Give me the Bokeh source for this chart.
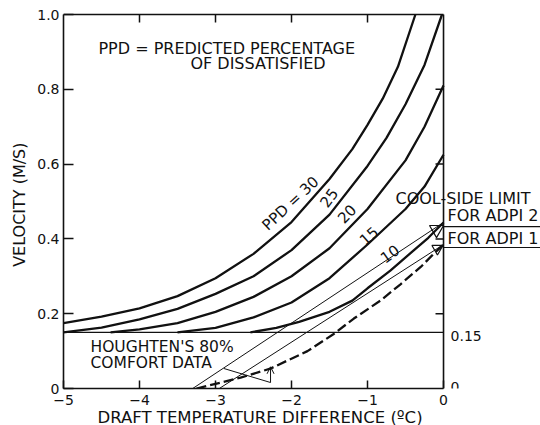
from bokeh.plotting import figure
from bokeh.models import LinearAxis, FixedTicker, Range1d, Arrow, OpenHead
from bokeh.core.properties import value
from bokeh.embed import file_html
from bokeh.resources import INLINE

FONT = "DejaVu Sans"
INK = "#111111"
NB = "\u00a0"

# ---- axes / ticks ----
x_ticks = [-5, -4, -3, -2, -1, 0]
x_tick_labels = ["\u22125", "\u22124", "\u22123", "\u22122", "\u22121", "0"]
y_ticks = [0, 0.2, 0.4, 0.6, 0.8, 1.0]
y_tick_labels = ["0", "0.2", "0.4", "0.6", "0.8", "1.0"]
right_ticks = [0.2, 0.4, 0.6, 0.8]
right_tick_values = [0.15, 0.0]
right_tick_labels = ["0.15", "0"]

# ---- PPD curves (draft temperature difference, velocity) ----
t_ppd30 = [-5, -4.5, -4, -3.5, -3, -2.5, -2, -1.5, -1.2, -1, -0.8, -0.6, -0.37]
v_ppd30 = [0.175, 0.192, 0.214, 0.247, 0.295, 0.36, 0.445, 0.56, 0.64, 0.705, 0.775, 0.86, 1.0]
t_ppd25 = [-5, -4.5, -4, -3.5, -3, -2.5, -2, -1.5, -1, -0.75, -0.5, -0.25, -0.02]
v_ppd25 = [0.15, 0.163, 0.185, 0.213, 0.253, 0.30, 0.37, 0.465, 0.595, 0.67, 0.76, 0.865, 1.0]
t_ppd20 = [-4.38, -4, -3.5, -3, -2.5, -2, -1.5, -1, -0.5, -0.25, 0]
v_ppd20 = [0.15, 0.158, 0.175, 0.205, 0.245, 0.30, 0.375, 0.48, 0.61, 0.70, 0.81]
t_ppd15 = [-3.5, -3, -2.5, -2, -1.5, -1, -0.5, -0.25, 0]
v_ppd15 = [0.15, 0.162, 0.19, 0.23, 0.295, 0.385, 0.48, 0.54, 0.625]
t_ppd10 = [-2.54, -2.2, -1.9, -1.5, -1.2, -1, -0.7, -0.4, -0.2, 0]
v_ppd10 = [0.15, 0.162, 0.178, 0.205, 0.235, 0.268, 0.315, 0.368, 0.403, 0.444]
ppd_labels = ["PPD = 30", "25", "20", "15", "10"]

# ---- Houghten's 80% comfort data (dashed) ----
t_hough = [-3.25, -2.67, -2.28, -1.79, -1.45, -1.18, -0.83, -0.57, -0.3, -0.13, 0]
v_hough = [0.0, 0.029, 0.053, 0.1, 0.145, 0.187, 0.235, 0.278, 0.325, 0.36, 0.385]

# ---- straight cool-side limit lines ----
t_adpi2 = [-3.3, 0]
v_adpi2 = [0.0, 0.444]
t_adpi1 = [-2.95, 0]
v_adpi1 = [0.0, 0.385]
adpi_limits = [0.433, 0.377]

baseline_v = 0.15

PX_X = 76.0   # pixels per degree
PX_Y = 374.0  # pixels per m/s

p = figure(frame_width=477, frame_height=388,
           x_range=Range1d(-5, 1.276), y_range=Range1d(0, 1.0 + 14 / PX_Y),
           output_backend="svg", toolbar_location=None,
           x_axis_location=None, y_axis_location=None,
           min_border_left=63, min_border_right=0, min_border_top=0, min_border_bottom=37)
p.outline_line_color = None
p.grid.grid_line_color = None
p.background_fill_color = "white"
p.border_fill_color = "white"

def style_axis(ax):
    ax.axis_line_color = INK
    ax.axis_line_width = 1.6
    ax.major_tick_line_color = INK
    ax.major_tick_line_width = 1.5
    ax.minor_tick_line_color = None
    ax.major_tick_out = 0
    ax.major_label_text_font = FONT
    ax.major_label_text_font_size = "14px"
    ax.major_label_text_color = INK
    ax.axis_label_text_font = FONT
    ax.axis_label_text_font_size = "16px"
    ax.axis_label_text_font_style = "normal"
    ax.axis_label_text_color = INK

# trailing no-break spaces shift the centred title to sit under the -5..0 axis
xb = LinearAxis(ticker=FixedTicker(ticks=x_ticks), bounds=(x_ticks[0], x_ticks[-1]),
                major_label_overrides=dict(zip(x_ticks, x_tick_labels)),
                axis_label="DRAFT TEMPERATURE DIFFERENCE (\u00baC)" + NB * 16)
style_axis(xb)
xb.axis_label_text_font_size = "16.5px"
xb.major_tick_in = 8
xb.major_label_standoff = 6
xb.axis_label_standoff = 0
p.add_layout(xb, "below")

yl = LinearAxis(ticker=FixedTicker(ticks=y_ticks), bounds=(y_ticks[0], y_ticks[-1]),
                major_label_overrides=dict(zip(y_ticks, y_tick_labels)),
                axis_label="VELOCITY (M/S)" + NB * 4)
style_axis(yl)
yl.major_tick_in = 10
yl.major_label_standoff = 4
yl.axis_label_standoff = 5
p.add_layout(yl, "left")

# top border with inward ticks
p.segment(x0=[x_ticks[0]], y0=[y_ticks[-1]], x1=[x_ticks[-1]], y1=[y_ticks[-1]],
          line_color=INK, line_width=1.6)
top_ticks = x_ticks[1:-1]
p.segment(x0=top_ticks, y0=[y_ticks[-1]] * len(top_ticks),
          x1=top_ticks, y1=[y_ticks[-1] - 8 / PX_Y] * len(top_ticks),
          line_color=INK, line_width=1.5)

# right-hand axis at zero temperature difference
p.segment(x0=[x_ticks[-1]], y0=[y_ticks[0]], x1=[x_ticks[-1]], y1=[y_ticks[-1]],
          line_color=INK, line_width=1.6)
p.segment(x0=[x_ticks[-1]] * len(right_ticks), y0=right_ticks,
          x1=[x_ticks[-1] - 8 / PX_X] * len(right_ticks), y1=right_ticks,
          line_color=INK, line_width=1.5)
p.text(x=[x_ticks[-1]] * 2, y=right_tick_values, text=right_tick_labels,
       x_offset=7, y_offset=[4, -2], text_baseline="middle", text_align="left",
       text_font=value(FONT), text_font_size="14px", text_color=INK)

# 0.15 m/s line
p.segment(x0=[x_ticks[0]], y0=[baseline_v], x1=[x_ticks[-1]], y1=[baseline_v],
          line_color=INK, line_width=1.2)

# PPD curves
for tt, vv in [(t_ppd30, v_ppd30), (t_ppd25, v_ppd25), (t_ppd20, v_ppd20),
               (t_ppd15, v_ppd15), (t_ppd10, v_ppd10)]:
    p.line(tt, vv, line_color=INK, line_width=2.3, line_join="round")

# labels on curves
p.text(x=[-2.013, -1.513, -1.276, -0.987, -0.711], y=[0.495, 0.511, 0.468, 0.409, 0.361],
       text=ppd_labels, angle=[0.75, 0.95, 0.8, 0.72, 0.62],
       text_align="center", text_baseline="middle",
       text_font=value(FONT), text_font_size="15px", text_color=INK)

# straight lines and Houghten dashed curve
p.line(t_adpi2, v_adpi2, line_color=INK, line_width=1.0)
p.line(t_adpi1, v_adpi1, line_color=INK, line_width=1.0)
p.line(t_hough, v_hough, line_color=INK, line_width=2.3, line_dash="10 4")

# arrowheads at the right axis
p.scatter(x=[-0.092, -0.08], y=[0.425, 0.374], marker="inverted_triangle", size=[14, 11],
          fill_color=None, line_color=INK, line_width=1.2)

# cool-side limit leaders
p.segment(x0=[x_ticks[-1]] * 2, y0=adpi_limits, x1=[1.3] * 2, y1=adpi_limits,
          line_color=INK, line_width=1.2)

# texts
p.text(x=[-4.54, -3.33], y=[0.909, 0.869],
       text=["PPD = PREDICTED PERCENTAGE", "OF DISSATISFIED"],
       text_align="left", text_baseline="middle",
       text_font=value(FONT), text_font_size="16px", text_color=INK)
p.text(x=[-0.632, 0.053, 0.053], y=[0.508, 0.463, 0.401],
       text=["COOL-SIDE LIMIT", "FOR ADPI 2", "FOR ADPI 1"],
       text_align="left", text_baseline="middle",
       text_font=value(FONT), text_font_size="16px", text_color=INK)
p.text(x=[-4.645, -4.645], y=[0.110, 0.0695],
       text=["HOUGHTEN'S 80%", "COMFORT DATA"],
       text_align="left", text_baseline="middle",
       text_font=value(FONT), text_font_size="15.5px", text_color=INK)

# leader from the Houghten label to the dashed curve
p.line([-2.89, -2.276], [0.0535, 0.016], line_color=INK, line_width=1.0)
p.add_layout(Arrow(end=OpenHead(size=7, line_width=1.0, line_color=INK),
                   x_start=-2.276, y_start=0.016, x_end=-2.276, y_end=0.058,
                   line_color=INK, line_width=1.0))

open("out.html", "w").write(file_html(p, INLINE))
